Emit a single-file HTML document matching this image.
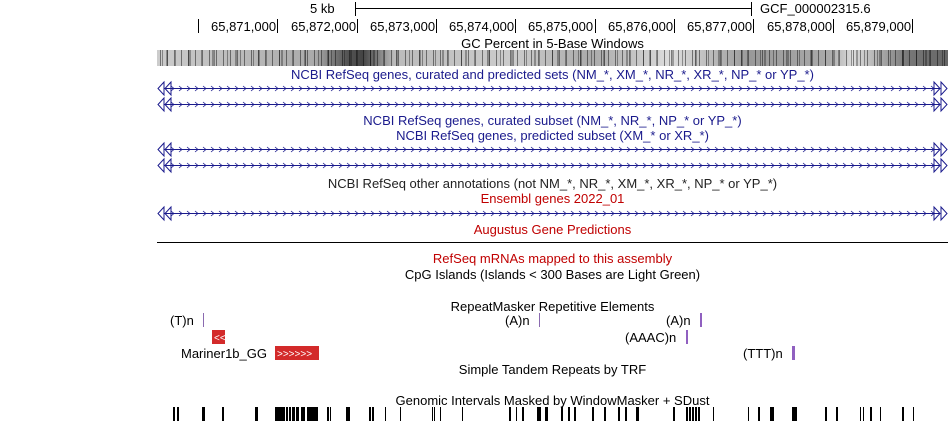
<!DOCTYPE html>
<html><head><meta charset="utf-8"><style>
html,body{margin:0;padding:0;background:#fff;}
body{width:950px;height:423px;position:relative;overflow:hidden;font-family:"Liberation Sans",Arial,sans-serif;font-size:13px;color:#000;}
.t{position:absolute;white-space:nowrap;line-height:13px;}
.c{left:157px;width:791px;text-align:center;}
.blue{color:#1a1a8c;}
.red{color:#c00000;}
.gray{color:#222;}
#gc{position:absolute;left:157px;top:50px;width:791px;height:16px;
background:
repeating-linear-gradient(90deg,rgba(0,0,0,0) 0 3px,rgba(0,0,0,.45) 3px 4px,rgba(0,0,0,0) 4px 7px),
repeating-linear-gradient(90deg,rgba(0,0,0,0) 0 5px,rgba(0,0,0,.35) 5px 6px,rgba(0,0,0,0) 6px 13px),
repeating-linear-gradient(90deg,rgba(0,0,0,0) 0 9px,rgba(0,0,0,.3) 9px 11px,rgba(0,0,0,0) 11px 23px),
linear-gradient(90deg,#ccc 0,#aaa 20%,#555 24%,#444 26%,#bbb 30%,#ccc 45%,#aaa 55%,#ddd 65%,#999 75%,#aaa 85%,#ddd 88%,#777 95%,#666 100%);}
</style></head><body>
<svg width="950" height="423" style="position:absolute;left:0;top:0">
<defs>
<pattern id="chev" x="0" y="83" width="8" height="11" patternUnits="userSpaceOnUse">
<path d="M3 3 L6 5.5 L3 8" fill="none" stroke="#1a1a8c" stroke-width="0.8"/>
</pattern>
</defs>
<line x1="355" y1="8.5" x2="751" y2="8.5" stroke="#000"/>
<line x1="355.5" y1="2" x2="355.5" y2="16" stroke="#000"/>
<line x1="751.5" y1="2" x2="751.5" y2="16" stroke="#000"/>
<g stroke="#000">
<line x1="198.5" y1="19" x2="198.5" y2="33"/>
<line x1="277.5" y1="19" x2="277.5" y2="33"/>
<line x1="357.5" y1="19" x2="357.5" y2="33"/>
<line x1="436.5" y1="19" x2="436.5" y2="33"/>
<line x1="515.5" y1="19" x2="515.5" y2="33"/>
<line x1="595.5" y1="19" x2="595.5" y2="33"/>
<line x1="674.5" y1="19" x2="674.5" y2="33"/>
<line x1="753.5" y1="19" x2="753.5" y2="33"/>
<line x1="833.5" y1="19" x2="833.5" y2="33"/>
<line x1="912.5" y1="19" x2="912.5" y2="33"/>
</g>
<g stroke="#1a1a8c" fill="none">
<g id="gl">
<line x1="164" y1="88.5" x2="940" y2="88.5"/>
<rect x="168" y="83" width="766" height="11" fill="url(#chev)" stroke="none"/>
<path d="M164 82 L158 88.5 L164 95 Z M171 82 L165 88.5 L171 95 Z"/>
<path d="M934 82 L940 88.5 L934 95 Z M941 82 L947 88.5 L941 95 Z"/>
</g>
<use href="#gl" y="16"/>
<use href="#gl" y="61"/>
<use href="#gl" y="77"/>
<use href="#gl" y="125"/>
</g>
<line x1="157" y1="242.5" x2="948" y2="242.5" stroke="#000"/>
<line x1="203.5" y1="313" x2="203.5" y2="327" stroke="#8a6ab0"/>
<line x1="539.5" y1="313" x2="539.5" y2="327" stroke="#8a6ab0"/>
<rect x="700" y="313" width="2" height="14" fill="#9060c0"/>
<rect x="686" y="330" width="2" height="14" fill="#9060c0"/>
<rect x="792" y="346" width="3" height="14" fill="#9060c0"/>
<rect x="212" y="330" width="13" height="14" fill="#d32a2a"/>
<text x="214" y="341" fill="#fff" font-size="10" font-family="Liberation Sans">&lt;&lt;</text>
<rect x="275" y="346" width="44" height="14" fill="#d32a2a"/>
<text x="277" y="357" fill="#fff" font-size="10" font-family="Liberation Sans">&gt;&gt;&gt;&gt;&gt;&gt;</text>
<g fill="#000">
<rect x="173" y="407" width="2" height="14"/><rect x="177" y="407" width="2" height="14"/>
<rect x="202" y="407" width="3" height="14"/><rect x="222" y="407" width="2" height="14"/>
<rect x="255" y="407" width="3" height="14"/>
<rect x="275" y="407" width="10" height="14"/><rect x="286" y="407" width="2" height="14"/>
<rect x="289" y="407" width="2" height="14"/><rect x="292" y="407" width="3" height="14"/>
<rect x="296" y="407" width="3" height="14"/><rect x="301" y="407" width="4" height="14"/>
<rect x="307" y="407" width="11" height="14"/>
<rect x="327" y="407" width="2" height="14"/><rect x="330" y="407" width="1" height="14"/>
<rect x="346" y="407" width="4" height="14"/>
<rect x="369" y="407" width="2" height="14"/><rect x="372" y="407" width="2" height="14"/>
<rect x="385" y="407" width="1" height="14"/><rect x="400" y="407" width="1" height="14"/>
<rect x="432" y="407" width="1" height="14"/><rect x="434" y="407" width="1" height="14"/><rect x="440" y="407" width="1" height="14"/>
<rect x="462" y="407" width="1" height="14"/>
<rect x="509" y="407" width="2" height="14"/><rect x="516" y="407" width="1" height="14"/><rect x="522" y="407" width="2" height="14"/>
<rect x="537" y="407" width="4" height="14"/><rect x="545" y="407" width="3" height="14"/>
<rect x="561" y="407" width="2" height="14"/><rect x="568" y="407" width="2" height="14"/><rect x="574" y="407" width="2" height="14"/>
<rect x="592" y="407" width="2" height="14"/><rect x="604" y="407" width="2" height="14"/>
<rect x="618" y="407" width="2" height="14"/><rect x="625" y="407" width="2" height="14"/><rect x="636" y="407" width="3" height="14"/>
<rect x="673" y="407" width="2" height="14"/>
<rect x="686" y="407" width="2" height="14"/><rect x="689" y="407" width="2" height="14"/><rect x="692" y="407" width="2" height="14"/><rect x="695" y="407" width="2" height="14"/><rect x="698" y="407" width="2" height="14"/>
<rect x="713" y="407" width="1" height="14"/><rect x="748" y="407" width="1" height="14"/><rect x="758" y="407" width="2" height="14"/>
<rect x="770" y="407" width="4" height="14"/><rect x="792" y="407" width="5" height="14"/>
<rect x="825" y="407" width="2" height="14"/><rect x="836" y="407" width="2" height="14"/>
<rect x="860" y="407" width="1" height="14"/><rect x="863" y="407" width="1" height="14"/><rect x="870" y="407" width="2" height="14"/>
<rect x="880" y="407" width="1" height="14"/><rect x="902" y="407" width="2" height="14"/><rect x="913" y="407" width="1" height="14"/>
</g>
</svg>
<div id="gc"></div>
<div class="t" style="left:310px;top:2px">5 kb</div>
<div class="t" style="left:760px;top:2px">GCF_000002315.6</div>
<div class="t" style="left:211px;top:20px">65,871,000</div>
<div class="t" style="left:291px;top:20px">65,872,000</div>
<div class="t" style="left:370px;top:20px">65,873,000</div>
<div class="t" style="left:449px;top:20px">65,874,000</div>
<div class="t" style="left:528px;top:20px">65,875,000</div>
<div class="t" style="left:608px;top:20px">65,876,000</div>
<div class="t" style="left:687px;top:20px">65,877,000</div>
<div class="t" style="left:767px;top:20px">65,878,000</div>
<div class="t" style="left:846px;top:20px">65,879,000</div>
<div class="t c" style="top:37px">GC Percent in 5-Base Windows</div>
<div class="t c blue" style="top:68px">NCBI RefSeq genes, curated and predicted sets (NM_*, XM_*, NR_*, XR_*, NP_* or YP_*)</div>
<div class="t c blue" style="top:114px">NCBI RefSeq genes, curated subset (NM_*, NR_*, NP_* or YP_*)</div>
<div class="t c blue" style="top:129px">NCBI RefSeq genes, predicted subset (XM_* or XR_*)</div>
<div class="t c gray" style="top:177px">NCBI RefSeq other annotations (not NM_*, NR_*, XM_*, XR_*, NP_* or YP_*)</div>
<div class="t c red" style="top:192px">Ensembl genes 2022_01</div>
<div class="t c red" style="top:223px">Augustus Gene Predictions</div>
<div class="t c red" style="top:252px">RefSeq mRNAs mapped to this assembly</div>
<div class="t c" style="top:268px">CpG Islands (Islands &lt; 300 Bases are Light Green)</div>
<div class="t c" style="top:300px">RepeatMasker Repetitive Elements</div>
<div class="t" style="left:170px;top:314px">(T)n</div>
<div class="t" style="left:505px;top:314px">(A)n</div>
<div class="t" style="left:666px;top:314px">(A)n</div>
<div class="t" style="left:625px;top:331px">(AAAC)n</div>
<div class="t" style="left:181px;top:347px">Mariner1b_GG</div>
<div class="t" style="left:743px;top:347px">(TTT)n</div>
<div class="t c" style="top:363px">Simple Tandem Repeats by TRF</div>
<div class="t c" style="top:394px">Genomic Intervals Masked by WindowMasker + SDust</div>
</body></html>
